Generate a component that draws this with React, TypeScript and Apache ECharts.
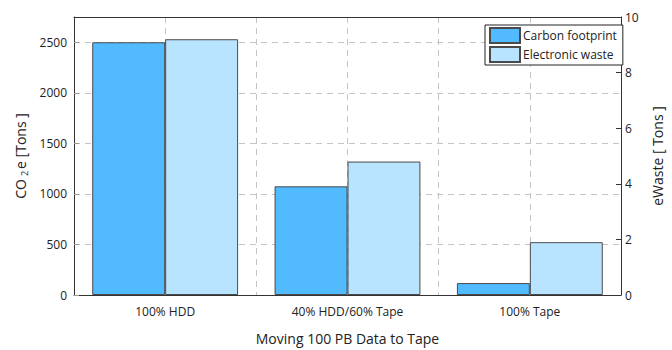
import React, { useEffect, useRef } from "react";
import * as echarts from "echarts";

const categories = ["100% HDD", "40% HDD/60% Tape", "100% Tape"];
const carbonFootprint = [2500, 1075, 118];
const electronicWaste = [9.2, 4.8, 1.9];
const leftTicks = [0, 500, 1000, 1500, 2000, 2500];
const rightTicks = [0, 2, 4, 6, 8, 10];

const FONT = "'Open Sans', 'DejaVu Sans', sans-serif";

export default function App() {
  const ref = useRef<HTMLDivElement>(null);
  useEffect(() => {
    if (!ref.current) return;
    const chart = echarts.init(ref.current, undefined, { renderer: "svg" });
    chart.setOption({
      animation: false,
      backgroundColor: "#ffffff",
      textStyle: { fontFamily: FONT },
      grid: { left: 74, right: 38, top: 17, bottom: 49 },
      legend: {
        orient: "vertical",
        left: 485,
        top: 25,
        itemWidth: 30,
        itemHeight: 15,
        itemGap: 2,
        padding: [2, 6, 2, 4],
        borderColor: "#222",
        borderWidth: 1,
        backgroundColor: "#fff",
        borderRadius: 0,
        icon: "rect",
        textStyle: { fontFamily: FONT, fontSize: 12, color: "#222", padding: [0, 0, 0, -2] },
        data: ["Carbon footprint", "Electronic waste"],
      },
      xAxis: [
        {
          type: "category",
          data: categories,
          position: "bottom",
          boundaryGap: true,
          axisLine: { lineStyle: { color: "#333", width: 1 } },
          axisTick: { show: false },
          axisLabel: { fontFamily: FONT, fontSize: 12, color: "#222", margin: 10 },
          splitLine: { show: false },
          name: "Moving 100 PB Data to Tape",
          nameLocation: "middle",
          nameGap: 36,
          nameTextStyle: { fontFamily: FONT, fontSize: 14, color: "#222" },
        },
        {
          type: "value",
          position: "top",
          min: 0,
          max: 6,
          interval: 1,
          axisLine: { show: true, onZero: false, lineStyle: { color: "#333", width: 1 } },
          axisTick: { show: false },
          axisLabel: { show: false },
          splitLine: { show: true, lineStyle: { color: "#c4c4c4", type: [6, 5], width: 1 } },
        },
      ],
      yAxis: [
        {
          type: "value",
          min: 0,
          max: 2750,
          interval: 500,
          position: "left",
          axisLine: { show: true, lineStyle: { color: "#333", width: 1 } },
          axisTick: { show: true, inside: true, length: 5, lineStyle: { color: "#999" } },
          axisLabel: {
            fontFamily: FONT,
            fontSize: 12,
            color: "#222",
            margin: 7,
            showMaxLabel: false,
            formatter: (v: number) => (leftTicks.includes(v) ? String(v) : ""),
          },
          splitLine: { show: true, lineStyle: { color: "#c4c4c4", type: [6, 5], width: 1 } },
          name: "CO{sub|2}e [Tons ]",
          nameLocation: "middle",
          nameGap: 41,
          nameRotate: 90,
          nameTextStyle: {
            fontFamily: FONT,
            fontSize: 14,
            color: "#222",
            rich: {
              sub: { fontFamily: FONT, fontSize: 9, color: "#222", verticalAlign: "bottom", padding: [8, 2, 0, 3] },
            },
          },
        },
        {
          type: "value",
          min: 0,
          max: 10,
          interval: 2,
          position: "right",
          axisLine: { show: true, lineStyle: { color: "#333", width: 1 } },
          axisTick: { show: true, inside: true, length: 5, lineStyle: { color: "#333" } },
          axisLabel: {
            fontFamily: FONT,
            fontSize: 12,
            color: "#222",
            margin: 4,
            formatter: (v: number) => (rightTicks.includes(v) ? String(v) : ""),
          },
          splitLine: { show: false },
          name: "eWaste [ Tons ]",
          nameLocation: "middle",
          nameGap: 29,
          nameRotate: 90,
          nameTextStyle: { fontFamily: FONT, fontSize: 14, color: "#222" },
        },
      ],
      series: [
        {
          name: "Carbon footprint",
          type: "bar",
          xAxisIndex: 0,
          yAxisIndex: 0,
          data: carbonFootprint,
          barGap: "0%",
          barCategoryGap: "20%",
          itemStyle: { color: "#52BBFF", borderColor: "#4a4a4a", borderWidth: 1 },
        },
        {
          name: "Electronic waste",
          type: "bar",
          xAxisIndex: 0,
          yAxisIndex: 1,
          data: electronicWaste,
          barGap: "0%",
          barCategoryGap: "20%",
          itemStyle: { color: "#B9E4FF", borderColor: "#4a4a4a", borderWidth: 1 },
        },
      ],
    });
    return () => chart.dispose();
  }, []);
  return <div ref={ref} style={{ width: 672, height: 350, position: "absolute", left: 0, top: 0 }} />;
}
